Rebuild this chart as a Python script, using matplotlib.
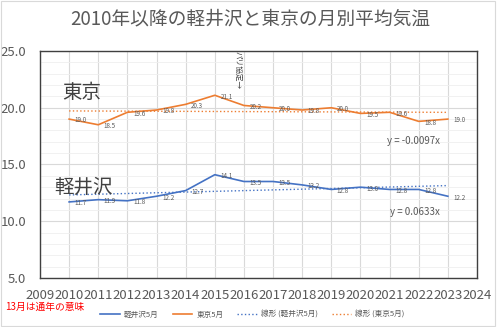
import numpy as np
import matplotlib
matplotlib.use('Agg')
from matplotlib import pyplot as plt
from matplotlib.ticker import MultipleLocator
from matplotlib.patches import Rectangle

plt.rcParams['font.family'] = ['Noto Sans CJK JP', 'DejaVu Sans']

years = [2010, 2011, 2012, 2013, 2014, 2015, 2016, 2017, 2018, 2019, 2020, 2021, 2022, 2023]
karuizawa = [11.7, 11.9, 11.8, 12.2, 12.7, 14.1, 13.5, 13.5, 13.2, 12.8, 13.0, 12.8, 12.8, 12.2]
tokyo = [19.0, 18.5, 19.6, 19.8, 20.3, 21.1, 20.2, 20.0, 19.8, 20.0, 19.5, 19.6, 18.8, 19.0]
xticks = list(range(2009, 2025))

blue = '#4472C4'
orange = '#ED7D31'
gray = '#595959'

fig = plt.figure(figsize=(5.0, 3.27), dpi=100)
ax = fig.add_axes([0.08, 0.15, 0.874, 0.694])

# linear trend lines (least squares over the yearly values)
x = np.array(years, dtype=float)
for vals, c in ((karuizawa, blue), (tokyo, orange)):
    p = np.polyfit(x, vals, 1)
    ax.plot(x, np.polyval(p, x), ls=':', lw=1.0, color=c, zorder=2)

ax.plot(years, karuizawa, color=blue, lw=1.2, zorder=3)
ax.plot(years, tokyo, color=orange, lw=1.2, zorder=3)

for xs, ys in ((years, karuizawa), (years, tokyo)):
    for xi, yi in zip(xs, ys):
        ax.annotate('%.1f' % yi, (xi, yi), xytext=(4, -1), textcoords='offset points',
                    fontsize=4.5, color=gray, va='center', ha='left')

ax.set_xlim(2009, 2024)
ax.set_ylim(5, 25)
ax.set_xticks(xticks)
ax.yaxis.set_major_locator(MultipleLocator(5))
ax.yaxis.set_minor_locator(MultipleLocator(1))
ax.yaxis.set_major_formatter(matplotlib.ticker.FormatStrFormatter('%.1f'))
ax.grid(which='major', color='#D9D9D9', lw=0.8)
ax.grid(which='minor', axis='y', color='#EFEFEF', lw=0.6)
ax.set_axisbelow(True)
ax.tick_params(length=0, labelsize=9.5, colors=gray)
ax.tick_params(axis='y', pad=10)
ax.tick_params(axis='x', pad=8)
ax.tick_params(which='minor', length=0)
for s in ax.spines.values():
    s.set_color('#404040')
    s.set_linewidth(1.0)

ax.text(2009.75, 21.3, '東京', fontsize=14, color='#404040', va='center')
ax.text(2009.5, 13.0, '軽井沢', fontsize=14, color='#404040', va='center')
ax.text(2020.9, 17.1, 'y = -0.0097x', fontsize=7, color=gray, va='center')
ax.text(2021.0, 10.8, 'y = 0.0633x', fontsize=7, color=gray, va='center')
ax.text(2015.8, 25.0, 'パリ協定→', fontsize=5.5, color='#404040', rotation=-90,
        ha='center', va='top')

fig.suptitle('2010年以降の軽井沢と東京の月別平均気温', y=0.975, fontsize=13.5, color=gray)
fig.text(0.01, 0.053, '13月は通年の意味', fontsize=7, color='#FF0000')

handles = [
    plt.Line2D([], [], color=blue, lw=1.2),
    plt.Line2D([], [], color=orange, lw=1.2),
    plt.Line2D([], [], color=blue, lw=1.0, ls=':'),
    plt.Line2D([], [], color=orange, lw=1.0, ls=':'),
]
labels = ['軽井沢5月', '東京5月', '線形 (軽井沢5月)', '線形 (東京5月)']
leg = fig.legend(handles, labels, loc='center', bbox_to_anchor=(0.505, 0.037), ncol=4,
                 frameon=False, fontsize=5.5, handlelength=2.6, handletextpad=0.5,
                 columnspacing=1.8)
for t in leg.get_texts():
    t.set_color(gray)

fig.patches.append(Rectangle((0.001, 0.003), 0.988, 0.994, transform=fig.transFigure,
                             fill=False, edgecolor='#D9D9D9', lw=0.8))

plt.savefig('out.png', dpi=100)
